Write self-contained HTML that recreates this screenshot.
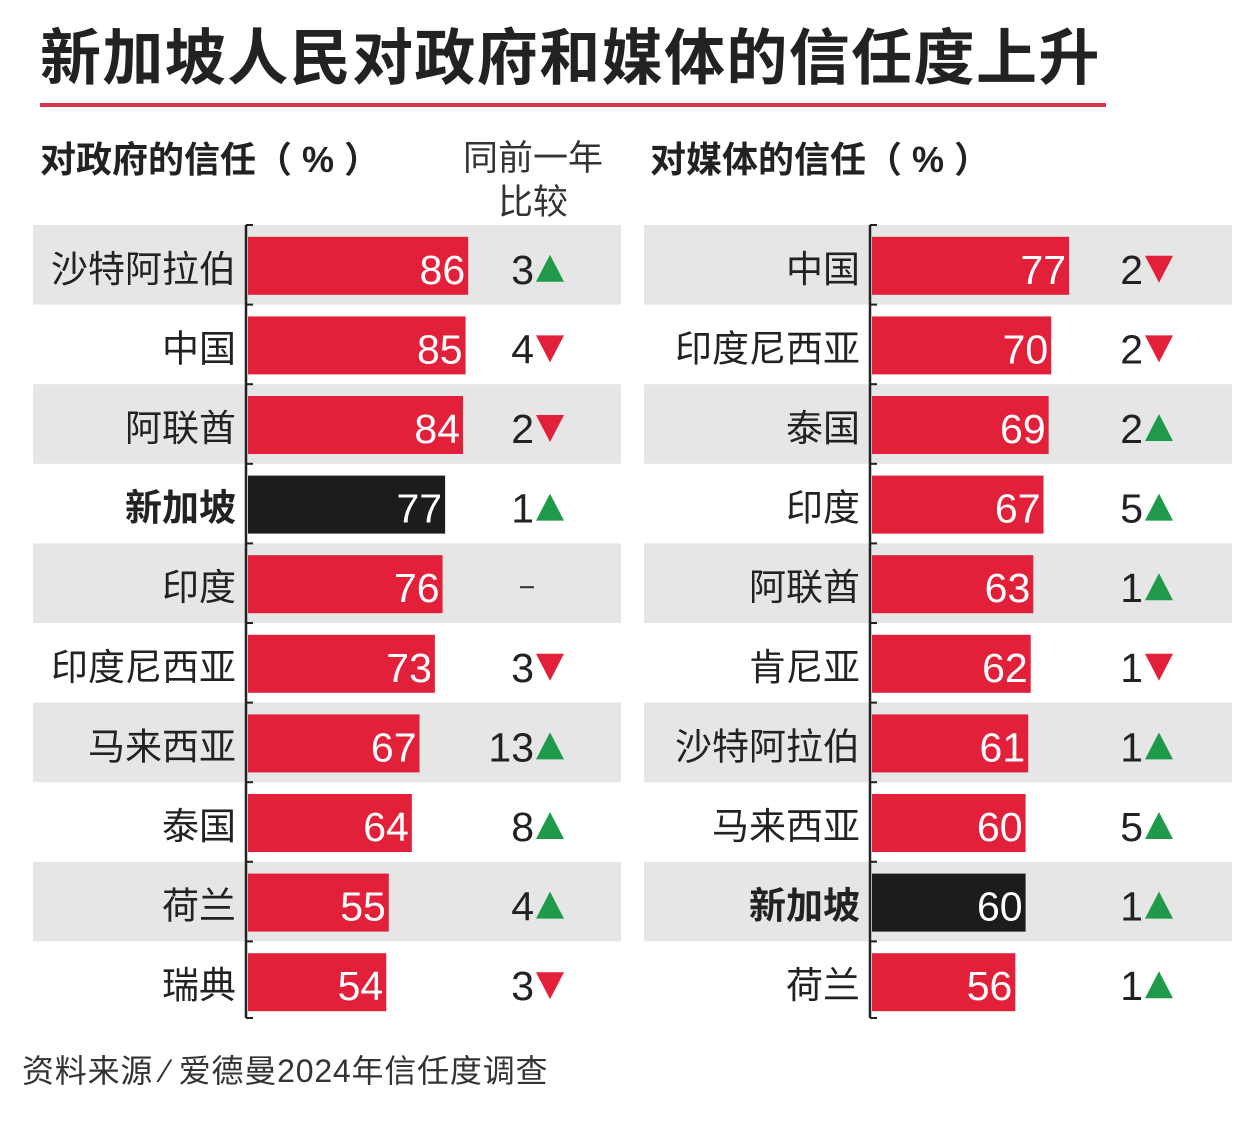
<!DOCTYPE html>
<html><head><meta charset="utf-8">
<style>
body{margin:0;background:#fff;width:1251px;height:1138px;overflow:hidden;font-family:"Liberation Sans","Noto Sans CJK SC",sans-serif;}
svg text{font-family:"Liberation Sans","Noto Sans CJK SC",sans-serif;}
</style></head><body>
<svg id="c" width="1251" height="1138">
<text x="40" y="79" font-size="61" letter-spacing="1.4" font-weight="bold" fill="#222">新加坡人民对政府和媒体的信任度上升</text>
<rect x="40" y="103" width="1066" height="4" fill="#d9344a"/>
<text x="40" y="172" font-size="36" font-weight="bold" fill="#222">对政府的信任（ % ）</text>
<text x="533" y="170" font-size="35" fill="#333" text-anchor="middle">同前一年</text>
<text x="533" y="214" font-size="35" fill="#333" text-anchor="middle">比较</text>
<text x="650" y="172" font-size="36" font-weight="bold" fill="#222">对媒体的信任（ % ）</text>
<text x="22" y="1082" font-size="32" letter-spacing="0.8" fill="#333">资料来源 ⁄ 爱德曼2024年信任度调查</text>
</svg>
<script>
const govCats=["沙特阿拉伯","中国","阿联酋","新加坡","印度","印度尼西亚","马来西亚","泰国","荷兰","瑞典"];
const govVals=[86,85,84,77,76,73,67,64,55,54];
const govChg=[3,4,2,1,null,3,13,8,4,3];
const govDir=["up","down","down","up","none","down","up","up","up","down"];
const medCats=["中国","印度尼西亚","泰国","印度","阿联酋","肯尼亚","沙特阿拉伯","马来西亚","新加坡","荷兰"];
const medVals=[77,70,69,67,63,62,61,60,60,56];
const medChg=[2,2,2,5,1,1,1,5,1,1];
const medDir=["down","down","up","up","up","down","up","up","up","up"];
const hl="新加坡";
const svg=document.getElementById('c');
const NS="http://www.w3.org/2000/svg";
function mk(t,a){const e=document.createElementNS(NS,t);for(const k in a)e.setAttribute(k,a[k]);svg.appendChild(e);return e;}
const top0=225,rowH=79.6,scale=2.56;
function panel(cats,vals,chg,dir,p){
  const y=i=>top0+i*rowH;
  const x=v=>p.ax+2+v*scale;
  cats.forEach((c,i)=>{
    if(i%2===0){const r=mk('rect',{x:p.bx,y:y(i),width:588,height:rowH,fill:'#e6e6e6'});
      }
  });
  const ax=mk('line',{x1:p.ax,x2:p.ax,y1:top0,y2:top0+10*rowH-3,stroke:'#222','stroke-width':2.5});
  
  for(let i=0;i<=10;i++){const t=mk('line',{x1:p.ax,x2:p.ax+7,y1:y(i)+(i==10?-3:0),y2:y(i)+(i==10?-3:0),stroke:'#222','stroke-width':2});
    }
  cats.forEach((c,i)=>{
    const cy=y(i)+rowH/2, v=vals[i], isH=c===hl;
    const l=mk('text',{x:p.ax-10,y:cy+17,'font-size':37,'text-anchor':'end',fill:'#222','font-weight':isH?'bold':'normal'});
    l.textContent=c;
    const b=mk('rect',{x:p.ax+2,y:cy-28,width:x(v)-p.ax-2,height:58,fill:isH?'#1e1b1c':'#e3203a'});
    
    const vt=mk('text',{x:x(v)-3,y:cy+19,'font-size':41,'text-anchor':'end',fill:'#fff'});
    vt.textContent=v;
    if(dir[i]==='none'){
      const d=mk('line',{x1:p.cx-14,x2:p.cx,y1:cy+4,y2:cy+4,stroke:'#333','stroke-width':2});
      
    } else {
      const n=mk('text',{x:p.cx,y:cy+19,'font-size':41,'text-anchor':'end',fill:'#222'});
      n.textContent=chg[i];
      const tx=p.cx+16, ty=cy+4;
      const pts=dir[i]==='up'?`${tx-14},${ty+13} ${tx+14},${ty+13} ${tx},${ty-14}`:`${tx-14},${ty-13} ${tx+14},${ty-13} ${tx},${ty+14}`;
      const tr=mk('polygon',{points:pts,fill:dir[i]==='up'?'#1e9a4a':'#e3203a'});
      
    }
  });
}
panel(govCats,govVals,govChg,govDir,{bx:33,ax:246,cx:534});
panel(medCats,medVals,medChg,medDir,{bx:644,ax:870,cx:1143});
</script>
</body></html>
